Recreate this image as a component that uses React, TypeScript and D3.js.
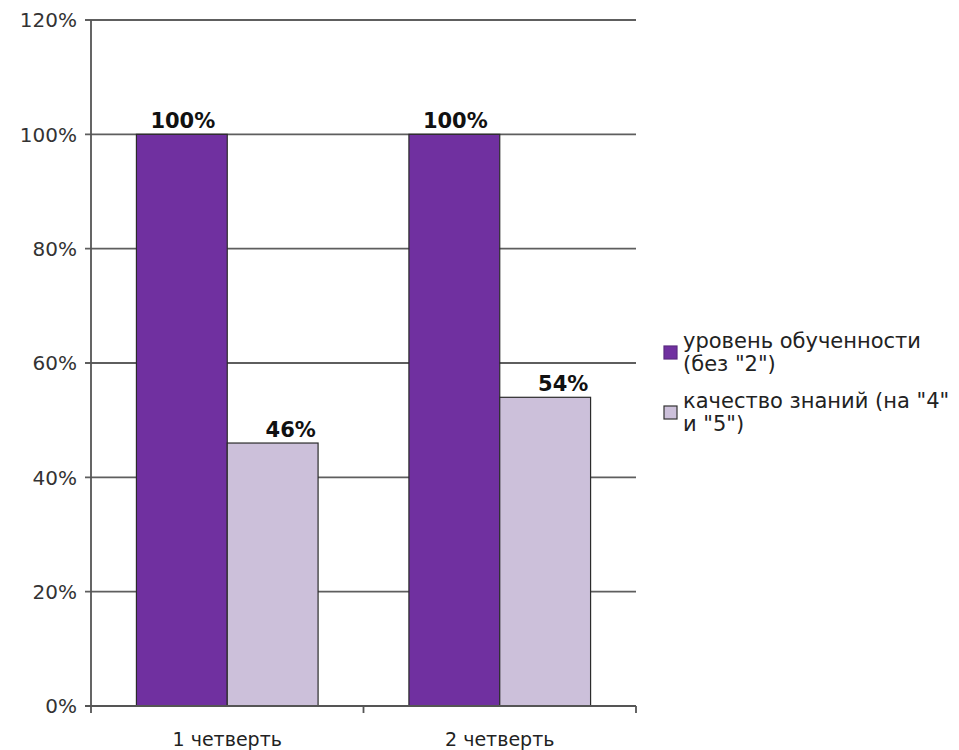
import React from "react";
import * as d3 from "d3";

const categories = ["1 четверть", "2 четверть"];
const seriesNames = ["уровень обученности (без \"2\")", "качество знаний (на \"4\" и \"5\")"];
const legendLines = [["уровень обученности", "(без \"2\")"], ["качество знаний (на \"4\"", "и \"5\")"]];
const seriesA = [1.0, 1.0];
const seriesB = [0.46, 0.54];
const yTicks = [0, 0.2, 0.4, 0.6, 0.8, 1.0, 1.2];
const colors = ["#7030A0", "#CCC0DA"];

const W = 959, H = 750;
const M = { left: 91, right: 636, top: 20, bottom: 706 };
const FONT = "'DejaVu Sans', sans-serif";

export default function App() {
  const series = [seriesA, seriesB];
  const x0 = d3.scaleBand().domain(categories).range([M.left, M.right]).paddingInner(0).paddingOuter(0);
  const x1 = d3.scaleBand().domain(["0", "1"]).range([0, x0.bandwidth()]).paddingInner(0).paddingOuter(0.5);
  const y = d3.scaleLinear().domain([0, 1.2]).range([M.bottom, M.top]);
  const fmt = d3.format(".0%");
  const labelDx = [1, 18];
  return (
    <svg width={W} height={H} style={{ position: "absolute", left: 0, top: 0, background: "#fff" }}>
      {yTicks.map((t) => (
        <g key={t}>
          <line x1={M.left - 6} x2={M.right} y1={y(t)} y2={y(t)} stroke="#5e5e5e" strokeWidth={1.8} />
          <text x={77} y={y(t)} dy="0.36em" textAnchor="end" fontFamily={FONT} fontSize={20} fill="#333">{fmt(t)}</text>
        </g>
      ))}
      <line x1={M.left} x2={M.left} y1={M.top} y2={M.bottom} stroke="#555" strokeWidth={1.8} />
      {[M.left, M.left + x0.bandwidth(), M.right].map((xv, i) => (
        <line key={i} x1={xv} x2={xv} y1={M.bottom} y2={M.bottom + 7} stroke="#555" strokeWidth={1.8} />
      ))}
      {series.map((vals, si) =>
        vals.map((v, ci) => {
          const bx = (x0(categories[ci]) as number) + (x1(String(si)) as number);
          return (
            <g key={si + "-" + ci}>
              <rect x={bx} y={y(v)} width={x1.bandwidth()} height={y(0) - y(v)} fill={colors[si]} stroke="#2b2b2b" strokeWidth={1.2} />
              <text x={bx + x1.bandwidth() / 2 + labelDx[si]} y={y(v) - 6} textAnchor="middle" fontFamily={FONT} fontWeight="bold" fontSize={21} fill="#111">{fmt(v)}</text>
            </g>
          );
        })
      )}
      <line x1={M.left - 6} x2={M.right} y1={M.bottom} y2={M.bottom} stroke="#555" strokeWidth={1.8} />
      {categories.map((c) => (
        <text key={c} x={(x0(c) as number) + x0.bandwidth() / 2} y={746} textAnchor="middle" fontFamily={FONT} fontSize={19} fill="#222">{c}</text>
      ))}
      {seriesNames.map((s, i) => (
        <g key={s}>
          <rect x={664} y={[346, 406][i]} width={13} height={13} fill={colors[i]} stroke={i === 0 ? "#5a2a80" : "#333"} strokeWidth={1.2} />
          {legendLines[i].map((ln, j) => (
            <text key={j} x={683} y={[348, 408][i] + j * 23} fontFamily={FONT} fontSize={21} fill="#222">{ln}</text>
          ))}
        </g>
      ))}
    </svg>
  );
}
